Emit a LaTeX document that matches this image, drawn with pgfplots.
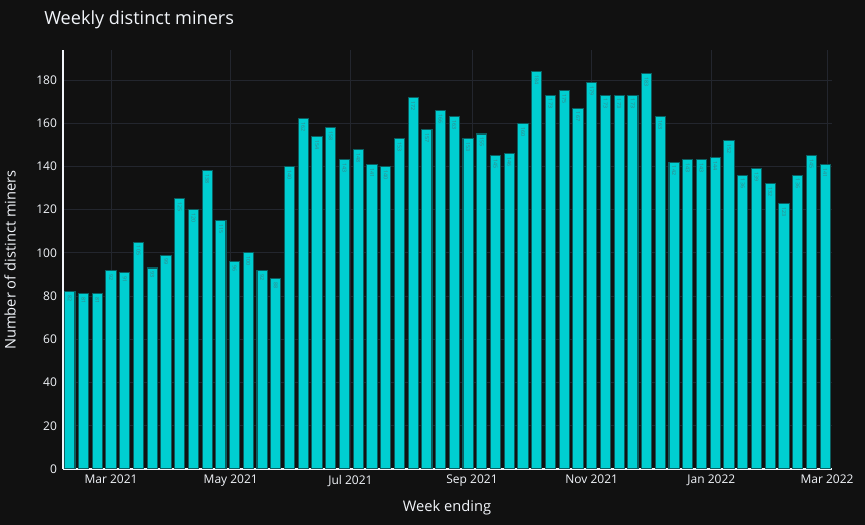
\documentclass[border=0pt]{standalone}
\usepackage{pgfplots}
\pgfplotsset{compat=1.18}
\usepackage{pgfplotstable}
\usepackage{fontspec}
\setmainfont{Open Sans}
\definecolor{bg}{HTML}{111111}
\definecolor{barfill}{HTML}{00CED1}
\definecolor{barline}{HTML}{0B5E60}
\definecolor{gridc}{HTML}{23262E}
\definecolor{txt}{HTML}{F2F5FA}
\definecolor{lbl}{HTML}{3C7F84}

% d = days after 1 Mar 2021 (week ending), v = distinct miners
\pgfplotstableread{
d v
-21 82
-14 81
-7 81
0 92
7 91
14 105
21 93
28 99
35 125
42 120
49 138
56 115
63 96
70 100
77 92
84 88
91 140
98 162
105 154
112 158
119 143
126 148
133 141
140 140
147 153
154 172
161 157
168 166
175 163
182 153
189 155
196 145
203 146
210 160
217 184
224 173
231 175
238 167
245 179
252 173
259 173
266 173
273 183
280 163
287 142
294 143
301 143
308 144
315 152
322 136
329 139
336 132
343 123
350 136
357 145
364 141
}\data

\begin{document}
\begin{tikzpicture}
\path[use as bounding box, fill=bg] (0pt,0pt) rectangle (648.75pt,393.75pt);
\begin{axis}[
  at={(47.25pt,42pt)}, anchor=south west,
  scale only axis, width=576.75pt, height=313.95pt,
  xmin=-24.5, xmax=367.5, ymin=0, ymax=193.7,
  axis x line*=bottom, axis y line*=left,
  axis line style={txt, line width=0.9pt},
  xtick={0,61,122,184,245,306,365},
  xticklabels={Mar 2021,May 2021,Jul 2021,Sep 2021,Nov 2021,Jan 2022,Mar 2022},
  ytick={0,20,...,180},
  major tick length=0pt,
  grid=major, grid style={gridc, line width=0.75pt},
  tick label style={txt, font=\fontsize{9}{10}\selectfont},
  /pgf/number format/assume math mode=true,
  xticklabel style={yshift=-1pt},
  yticklabel style={xshift=-1pt},
  ybar, bar width=5.2,
  nodes near coords,
  every node near coord/.append style={rotate=-90, anchor=west, inner xsep=2.5pt,
     font=\fontsize{4}{4}\selectfont, text=lbl},
]
\addplot[fill=barfill, draw=barline, line width=0.8pt] table[x=d,y=v]{\data};
\end{axis}
\node[anchor=west, inner sep=0pt, text=txt, font=\fontsize{13.6}{15}\selectfont] at (33pt,379pt) {Weekly distinct miners};
\node[rotate=90, text=txt, font=\fontsize{11}{12}\selectfont] at (7.5pt,198.75pt) {Number of distinct miners};
\node[text=txt, font=\fontsize{11}{12}\selectfont] at (335.25pt,12.75pt) {Week ending};
\end{tikzpicture}
\end{document}
